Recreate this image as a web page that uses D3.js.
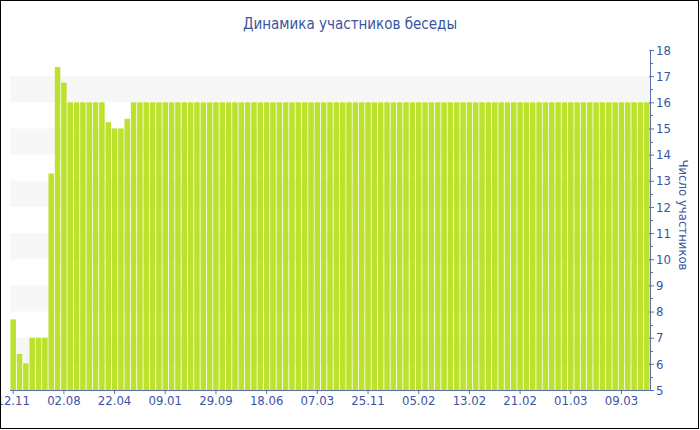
<!DOCTYPE html>
<html>
<head>
<meta charset="utf-8">
<script src="https://cdn.jsdelivr.net/npm/d3@7"></script>
<style>
html,body{margin:0;padding:0;background:#fff;}
svg{display:block;}
text{font-family:"DejaVu Sans Condensed","Liberation Sans",sans-serif;}
</style>
</head>
<body>
<script>
const title = "Динамика участников беседы";
const yTitle = "Число участников";
const values = [
  7.7, 6.38, 6.02, 7, 7, 7, 13.28, 17.35, 16.75, 16,
  16, 16, 16, 16, 16, 15.24, 15, 15, 15.37, 16,
  16, 16, 16, 16, 16, 16, 16, 16, 16, 16,
  16, 16, 16, 16, 16, 16, 16, 16, 16, 16,
  16, 16, 16, 16, 16, 16, 16, 16, 16, 16,
  16, 16, 16, 16, 16, 16, 16, 16, 16, 16,
  16, 16, 16, 16, 16, 16, 16, 16, 16, 16,
  16, 16, 16, 16, 16, 16, 16, 16, 16, 16,
  16, 16, 16, 16, 16, 16, 16, 16, 16, 16,
  16, 16, 16, 16, 16, 16, 16, 16, 16, 16,
  16
];
const categories = values.map((v, i) => i);
const tickLabels = ["12.11","02.08","22.04","09.01","29.09","18.06","07.03","25.11","05.02","13.02","21.02","01.03","09.03"];
const tickIndex = [0, 8, 16, 24, 32, 40, 48, 56, 64, 72, 80, 88, 96];
const yTicks = [5,6,7,8,9,10,11,12,13,14,15,16,17,18];
const bands = [[6,7],[8,9],[10,11],[12,13],[14,15],[16,17]];

(function () {
const W = 700, H = 430;
const mLeft = 10, mRight = 650, mTop = 50, mBottom = 390;
const textColor = "#3a55a0", axisColor = "#5b6fae";
const ff = "'DejaVu Sans Condensed','Liberation Sans',sans-serif";

const svg = d3.select("body").append("svg").attr("width", W).attr("height", H);

const x = d3.scaleBand().domain(categories).range([mLeft, mRight]).paddingInner(0.13).paddingOuter(0.07);
const y = d3.scaleLinear().domain([5, 18]).range([mBottom, mTop]);

svg.append("g").selectAll("rect").data(bands).join("rect")
  .attr("x", mLeft).attr("width", mRight - mLeft)
  .attr("y", d => y(d[1])).attr("height", d => y(d[0]) - y(d[1]))
  .attr("fill", "#f7f7f7");

svg.append("g").selectAll("rect").data(values).join("rect")
  .attr("x", (d, i) => x(categories[i]))
  .attr("width", x.bandwidth())
  .attr("y", d => y(d))
  .attr("height", d => y(5) - y(d))
  .attr("fill", "#bde22d");

const xAxis = d3.axisBottom(x)
  .tickValues(tickIndex)
  .tickFormat((d, i) => tickLabels[i])
  .tickSizeInner(4).tickSizeOuter(0);
const gx = svg.append("g").attr("transform", `translate(0,${mBottom})`).call(xAxis);
gx.select(".domain").attr("stroke", axisColor).attr("d", `M${mLeft},0.5H${mRight}`);
gx.selectAll(".tick line").attr("stroke", axisColor);
gx.selectAll(".tick text").attr("fill", textColor).attr("font-size", 13).attr("y", 6).attr("dy", "0.71em")
  .attr("font-family", ff);

const yAxis = d3.axisRight(y).tickValues(yTicks).tickSizeInner(4).tickSizeOuter(0).tickPadding(2);
const gy = svg.append("g").attr("transform", `translate(${mRight},0)`).call(yAxis);
gy.select(".domain").attr("stroke", axisColor).attr("d", `M0.5,${mTop}V${mBottom}`);
gy.selectAll(".tick line").attr("stroke", axisColor).attr("x1", -1).attr("x2", 4);
gy.selectAll(".tick text").attr("fill", textColor).attr("font-size", 13).attr("font-family", ff);

const minor = yTicks.slice(0, -1).map(v => v + 0.5);
svg.append("g").selectAll("line").data(minor).join("line")
  .attr("x1", mRight).attr("x2", mRight + 3)
  .attr("y1", d => Math.round(y(d)) + 0.5).attr("y2", d => Math.round(y(d)) + 0.5)
  .attr("stroke", axisColor);

svg.append("text").attr("x", 350).attr("y", 29).attr("text-anchor", "middle")
  .attr("fill", textColor).attr("font-size", 15).text(title);

svg.append("text").attr("transform", `translate(679,215) rotate(90)`)
  .attr("text-anchor", "middle").attr("fill", textColor).attr("font-size", 13).text(yTitle);

svg.append("rect").attr("x", 0.5).attr("y", 0.5).attr("width", 698).attr("height", 428)
  .attr("fill", "none").attr("stroke", "#000");
})();
</script>
</body>
</html>
